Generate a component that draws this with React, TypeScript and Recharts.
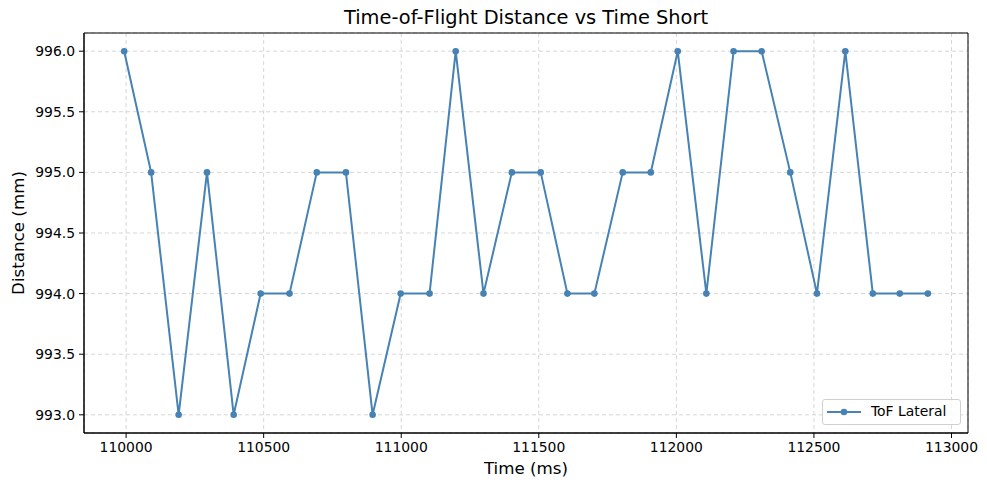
import React from 'react';
import { LineChart, Line, XAxis, YAxis, CartesianGrid, Legend, ReferenceArea } from 'recharts';

// sample times (ms) and ToF lateral distance (mm)
const times = [
  109993, 110091, 110191, 110294, 110391, 110489, 110594, 110693, 110799, 110896,
  110998, 111103, 111198, 111299, 111402, 111507, 111604, 111702, 111805, 111907,
  112005, 112109, 112208, 112310, 112414, 112511, 112614, 112714, 112812, 112914,
];
const distances = [
  996, 995, 993, 995, 993, 994, 994, 995, 995, 993,
  994, 994, 996, 994, 995, 995, 994, 994, 995, 995,
  996, 994, 996, 996, 995, 994, 996, 994, 994, 994,
];
const xTicks = [110000, 110500, 111000, 111500, 112000, 112500, 113000];
const yTicks = [993, 993.5, 994, 994.5, 995, 995.5, 996];

const data = times.map((t, i) => ({ t, d: distances[i] }));

const COLOR = '#4682b4';
const FONT = 'DejaVu Sans, sans-serif';
const xDomain = [109847, 113060];
const yDomain = [992.85, 996.15];

const LegendBox = () => (
  <div
    style={{
      width: 137,
      height: 24,
      border: '1px solid #d0d0d0',
      borderRadius: 3,
      background: 'rgba(255,255,255,0.8)',
      position: 'relative',
      fontFamily: FONT,
      fontSize: 13.9,
      color: '#000',
    }}
  >
    <svg width={40} height={24} style={{ position: 'absolute', left: 0, top: 0 }}>
      <line x1={4} y1={12} x2={38} y2={12} stroke={COLOR} strokeWidth={2} />
      <circle cx={21} cy={12} r={3.3} fill={COLOR} />
    </svg>
    <span style={{ position: 'absolute', left: 48, top: 3, lineHeight: '17px' }}>ToF Lateral</span>
  </div>
);

export default function App() {
  return (
    <div style={{ position: 'absolute', left: 0, top: 0, width: 987, height: 490, background: '#fff' }}>
      <div
        style={{
          position: 'absolute',
          left: 84,
          width: 884,
          top: 6,
          textAlign: 'center',
          fontFamily: FONT,
          fontSize: 19.4,
          lineHeight: '24px',
          color: '#000',
        }}
      >
        Time-of-Flight Distance vs Time Short
      </div>
      <LineChart width={987} height={490} data={data} margin={{ top: 33, right: 19, left: 0, bottom: 0 }}>
        <CartesianGrid stroke="#d6d6d6" strokeDasharray="4 3" />
        <XAxis
          dataKey="t"
          type="number"
          domain={xDomain}
          ticks={xTicks}
          height={57}
          allowDataOverflow
          stroke="#000"
          tickSize={5}
          tickMargin={4}
          tick={{ fill: '#000', fontSize: 13.9, fontFamily: FONT }}
          label={{
            content: ({ viewBox }: any) => (
              <text
                x={viewBox.x + viewBox.width / 2}
                y={474}
                textAnchor="middle"
                fontSize={16.7}
                fontFamily={FONT}
                fill="#000"
              >
                Time (ms)
              </text>
            ),
          }}
        />
        <YAxis
          type="number"
          domain={yDomain}
          ticks={yTicks}
          width={84}
          allowDataOverflow
          stroke="#000"
          tickSize={5}
          tickMargin={4}
          tickFormatter={(v: number) => v.toFixed(1)}
          tick={{ fill: '#000', fontSize: 13.9, fontFamily: FONT }}
          label={{
            content: ({ viewBox }: any) => {
              const cy = viewBox.y + viewBox.height / 2;
              return (
                <text
                  x={23.5}
                  y={cy}
                  transform={`rotate(-90 23.5 ${cy})`}
                  textAnchor="middle"
                  fontSize={16.7}
                  fontFamily={FONT}
                  fill="#000"
                >
                  Distance (mm)
                </text>
              );
            },
          }}
        />
        <ReferenceArea
          x1={xDomain[0]}
          x2={xDomain[1]}
          y1={yDomain[0]}
          y2={yDomain[1]}
          fill="none"
          stroke="#000"
          strokeWidth={1}
          ifOverflow="visible"
        />
        <Legend
          layout="horizontal"
          verticalAlign="middle"
          align="center"
          wrapperStyle={{ left: 822, top: 399, width: 'auto', height: 'auto' }}
          content={() => <LegendBox />}
        />
        <Line
          type="linear"
          dataKey="d"
          name="ToF Lateral"
          stroke={COLOR}
          strokeWidth={2}
          dot={{ r: 3.3, fill: COLOR, stroke: COLOR, strokeWidth: 0 }}
          activeDot={false}
          isAnimationActive={false}
        />
      </LineChart>
    </div>
  );
}
